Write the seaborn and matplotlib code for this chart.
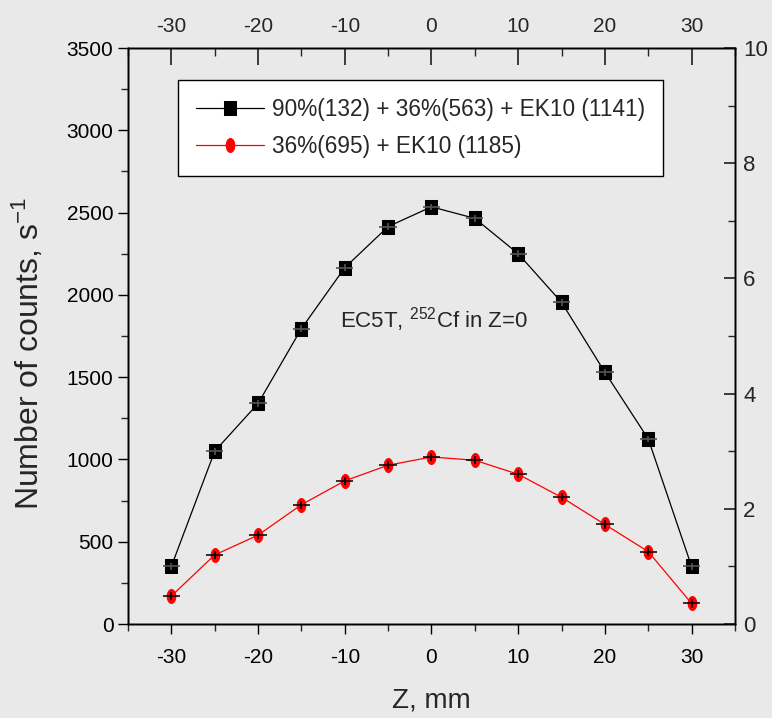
import numpy as np
import pandas as pd
import matplotlib
matplotlib.use("Agg")
import matplotlib.pyplot as plt
import seaborn as sns
from matplotlib.ticker import MultipleLocator
from matplotlib.path import Path

z_mm = [-30, -25, -20, -15, -10, -5, 0, 5, 10, 15, 20, 25, 30]
counts_a = [350, 1050, 1340, 1795, 2165, 2415, 2535, 2465, 2250, 1955, 1530, 1125, 350]
counts_b = [170, 420, 540, 725, 870, 965, 1015, 995, 910, 770, 605, 440, 125]
label_a = "90%(132) + 36%(563) + EK10 (1141)"
label_b = "36%(695) + EK10 (1185)"
x_ticks = [-30, -20, -10, 0, 10, 20, 30]
y_ticks = [0, 500, 1000, 1500, 2000, 2500, 3000, 3500]
right_ticks = [0, 2, 4, 6, 8, 10]

sns.set_theme(style="ticks")
plt.rcParams["font.family"] = ["Liberation Sans", "DejaVu Sans"]
plt.rcParams["mathtext.default"] = "regular"
plt.rcParams["axes.unicode_minus"] = False
bg = "#e9e9e9"

fig = plt.figure(figsize=(7.72, 7.18), dpi=100, facecolor=bg)
ax = fig.add_axes([0.1658, 0.1309, 0.7862, 0.8022])
ax.set_facecolor(bg)

df = pd.DataFrame({"z": z_mm * 2, "c": counts_a + counts_b,
                   "s": [label_a] * len(z_mm) + [label_b] * len(z_mm)})

t = np.linspace(0, 2 * np.pi, 40)
ellipse = Path(np.column_stack([0.62 * np.cos(t), np.sin(t)]), closed=True)
sq = Path([(-0.88, -1), (0.88, -1), (0.88, 1), (-0.88, 1), (-0.88, -1)], closed=True)

sns.lineplot(data=df[df.s == label_a], x="z", y="c", color="black", lw=0.9,
             marker=sq, markersize=9.5, markeredgecolor="black", ax=ax,
             label=label_a, zorder=3)
sns.lineplot(data=df[df.s == label_b], x="z", y="c", color="red", lw=0.9,
             marker=ellipse, markersize=10, markeredgecolor="red", ax=ax,
             label=label_b, zorder=3)
ax.errorbar(z_mm, counts_a, xerr=1, yerr=20, fmt="none", ecolor="#555555", lw=1.2, zorder=4)
ax.errorbar(z_mm, counts_b, xerr=1, yerr=25, fmt="none", ecolor="black", lw=1.1, zorder=4)

ax.set_xlim(-35, 35)
ax.set_ylim(0, 3500)
ax.set_xticks(x_ticks)
ax.set_yticks(y_ticks)
ax.xaxis.set_minor_locator(MultipleLocator(5))
ax.yaxis.set_minor_locator(MultipleLocator(250))
ax.tick_params(axis="both", which="major", direction="out", length=7, width=1, labelsize=15, colors="black")
ax.tick_params(axis="both", which="minor", direction="out", length=5, width=1)
ax.tick_params(axis="x", pad=10)
for s in ax.spines.values():
    s.set_color("black")
    s.set_linewidth(1)
ax.set_xlabel("Z, mm", fontsize=20, va="top")
ax.xaxis.set_label_coords(0.5, -0.11)
ax.set_ylabel("Number of counts, s$^{-1}$", fontsize=23)
ax.yaxis.set_label_coords(-0.135, 0.47)

axt = ax.twiny()
axt.set_xlim(-35, 35)
axt.set_xticks(x_ticks)
axt.xaxis.set_minor_locator(MultipleLocator(5))
axt.tick_params(axis="x", which="major", direction="in", length=12, labelsize=15, pad=9)
axt.tick_params(axis="x", which="minor", direction="in", length=6)

axr = ax.twinx()
axr.set_ylim(0, 10)
axr.set_yticks(right_ticks)
axr.yaxis.set_minor_locator(MultipleLocator(1))
axr.tick_params(axis="y", which="major", direction="in", length=8, labelsize=16, pad=6)
axr.tick_params(axis="y", which="minor", direction="in", length=5)
for a in (axt, axr):
    for s in a.spines.values():
        s.set_color("black")
        s.set_linewidth(1)

leg = ax.legend(loc="upper left", bbox_to_anchor=(0.0824, 0.944), fontsize=16.3,
                frameon=True, fancybox=False, edgecolor="black", facecolor="white",
                framealpha=1, handlelength=3.0, borderpad=0.8, labelspacing=0.6,
                handletextpad=0.35, borderaxespad=0)
leg.get_frame().set_linewidth(1)

ax.text(-10.6, 1800, "EC5T, $^{252}$Cf in Z=0", fontsize=16, ha="left", va="baseline")

fig.savefig("out.png", dpi=100, facecolor=bg)
